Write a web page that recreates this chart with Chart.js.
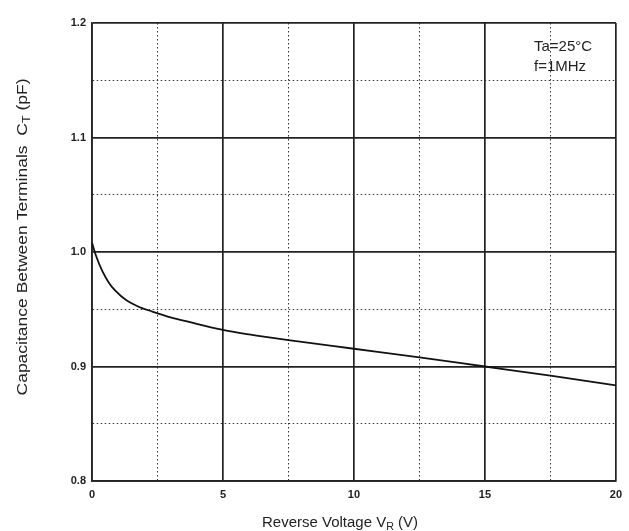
<!DOCTYPE html>
<html>
<head>
<meta charset="utf-8">
<script src="https://cdn.jsdelivr.net/npm/chart.js@4/dist/chart.umd.min.js"></script>
<style>
  html, body { margin: 0; padding: 0; background: #fff; }
  #wrap { width: 629px; height: 531px; }
</style>
</head>
<body>
<div id="wrap"><canvas id="myChart" width="629" height="531"></canvas></div>
<script>
// reverse voltage (V) and terminal capacitance (pF)
const voltage = [0, 0.15, 0.4, 0.65, 0.9, 1.3, 1.8, 2.3, 3.0, 3.7, 5, 6, 7.5, 10, 12.5, 15, 17.5, 20];
const capacitance = [1.008, 0.997, 0.983, 0.973, 0.966, 0.958, 0.952, 0.948, 0.943, 0.939, 0.932, 0.928, 0.923, 0.9155, 0.908, 0.900, 0.892, 0.8835];
const xTicks = [0, 5, 10, 15, 20];
const yTicks = ["0.8", "0.9", "1.0", "1.1", "1.2"];
const notes = ["Ta=25\u00B0C", "f=1MHz"];

window.addEventListener("load", function () {
  const ctx = document.getElementById("myChart");
  const points = voltage.map((v, i) => ({ x: v, y: capacitance[i] }));
  const FONT = "'Liberation Sans', Arial, sans-serif";

  function isMajor(v, step) {
    return Math.abs(v / step - Math.round(v / step)) < 1e-6;
  }

  // draws text pieces (with subscripts) centred on cx, stretched to width w
  function drawParts(c, parts, cx, y, w) {
    let total = 0;
    parts.forEach((p) => {
      c.font = p[1] + "px " + FONT;
      total += c.measureText(p[0]).width;
    });
    c.save();
    c.translate(cx, y);
    c.scale(w / total, 1);
    let x = -total / 2;
    c.textAlign = "left";
    parts.forEach((p) => {
      c.font = p[1] + "px " + FONT;
      c.fillText(p[0], x, p[2]);
      x += c.measureText(p[0]).width;
    });
    c.restore();
  }

  // axis titles with subscripts + condition text
  const textPlugin = {
    id: "texts",
    afterDraw(chart) {
      const c = chart.ctx;
      c.save();
      c.fillStyle = "#222";
      c.textBaseline = "alphabetic";

      drawParts(c, [["Reverse Voltage V", 14, 0], ["R", 10, 3], [" (V)", 14, 0]], 340, 527, 156);

      c.save();
      c.translate(27, 237);
      c.rotate(-Math.PI / 2);
      drawParts(c, [["Capacitance Between Terminals  C", 14, 0], ["T", 10, 3], [" (pF)", 14, 0]], 0, 0, 317);
      c.restore();

      c.font = "15px " + FONT;
      c.textAlign = "left";
      c.fillText(notes[0], 534, 51);
      c.fillText(notes[1], 534, 71);
      c.restore();
    }
  };

  ctx.grafico = new Chart(ctx, {
    type: "scatter",
    data: {
      datasets: [
        {
          label: "CT",
          data: points,
          showLine: true,
          borderColor: "#111",
          borderWidth: 1.8,
          pointRadius: 0,
          cubicInterpolationMode: "monotone",
          fill: false,
        },
      ],
    },
    options: {
      responsive: false,
      animation: false,
      devicePixelRatio: 1,
      layout: { padding: { left: 0, right: 12, top: 23, bottom: 0 } },
      plugins: {
        legend: { display: false },
        tooltip: { enabled: false },
      },
      scales: {
        x: {
          type: "linear",
          min: 0,
          max: 20,
          afterFit: (s) => { s.height = 50; },
          ticks: {
            stepSize: 2.5,
            padding: 7,
            color: "#222",
            font: { family: FONT, size: 11, weight: "bold" },
            callback: (v) => (xTicks.includes(v) ? String(v) : ""),
            maxRotation: 0,
            autoSkip: false,
          },
          grid: {
            drawTicks: false,
            color: (c) => (isMajor(c.tick.value, 5) ? "#222" : "#333"),
            lineWidth: (c) => (isMajor(c.tick.value, 5) ? 1.7 : 1),
          },
          border: {
            color: "#222",
            width: 1.7,
            dash: (c) => (c.tick && !isMajor(c.tick.value, 5) ? [1.5, 2.5] : []),
          },
        },
        y: {
          type: "linear",
          min: 0.8,
          max: 1.2,
          afterFit: (s) => { s.width = 92; },
          ticks: {
            stepSize: 0.05,
            padding: 6,
            color: "#222",
            font: { family: FONT, size: 11, weight: "bold" },
            callback: (v) => {
              const lbl = v.toFixed(1);
              return isMajor(v, 0.1) && yTicks.includes(lbl) ? lbl : "";
            },
            autoSkip: false,
          },
          grid: {
            drawTicks: false,
            color: (c) => (isMajor(c.tick.value, 0.1) ? "#222" : "#333"),
            lineWidth: (c) => (isMajor(c.tick.value, 0.1) ? 1.7 : 1),
          },
          border: {
            color: "#222",
            width: 1.7,
            dash: (c) => (c.tick && !isMajor(c.tick.value, 0.1) ? [1.5, 2.5] : []),
          },
        },
      },
    },
    plugins: [textPlugin],
  });
});
</script>
</body>
</html>
